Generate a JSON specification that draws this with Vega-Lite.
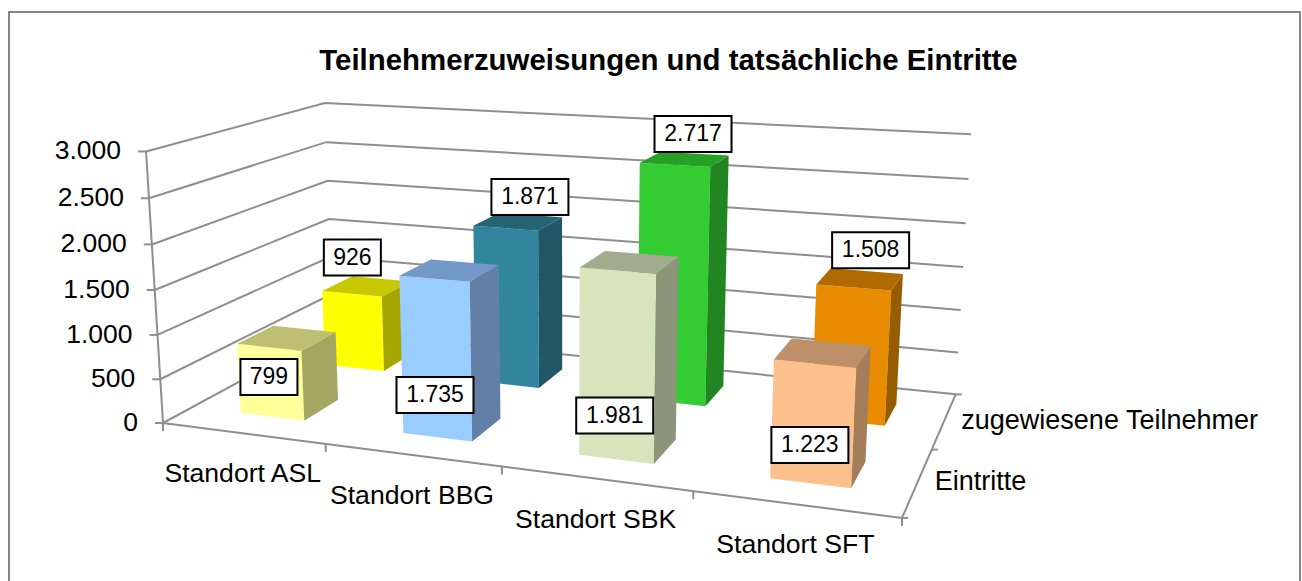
{
"$schema":"https://vega.github.io/schema/vega-lite/v6.json",
"width":1291,"height":570,
"padding":{"left":9,"top":12,"right":2,"bottom":0},
"autosize":"none",
"background":"white",
"config":{"view":{"stroke":"#868686","strokeWidth":2},"font":"Liberation Sans"},
"title":{"text":"Teilnehmerzuweisungen und tatsächliche Eintritte","font":"Liberation Sans","fontSize":29.4,"fontWeight":"bold","color":"black","anchor":"middle","baseline":"middle","dx":14,"dy":30,"offset":-48},
"datasets":{
"balken":[
{"standort":"Standort ASL","reihe":"zugewiesene Teilnehmer","wert":926},
{"standort":"Standort BBG","reihe":"zugewiesene Teilnehmer","wert":1871},
{"standort":"Standort SBK","reihe":"zugewiesene Teilnehmer","wert":2717},
{"standort":"Standort SFT","reihe":"zugewiesene Teilnehmer","wert":1508},
{"standort":"Standort ASL","reihe":"Eintritte","wert":799},
{"standort":"Standort BBG","reihe":"Eintritte","wert":1735},
{"standort":"Standort SBK","reihe":"Eintritte","wert":1981},
{"standort":"Standort SFT","reihe":"Eintritte","wert":1223}],
"skala":[{"wert":0},{"wert":500},{"wert":1000},{"wert":1500},{"wert":2000},{"wert":2500},{"wert":3000}],
"kanten":[{"kante":"y"},{"kante":"x"},{"kante":"z"}],
"grenzen":[{"grenze":0},{"grenze":1},{"grenze":2},{"grenze":3},{"grenze":4}],
"orte":[{"standort":"Standort ASL"},{"standort":"Standort BBG"},{"standort":"Standort SBK"},{"standort":"Standort SFT"}],
"reihen":[{"reihe":"Eintritte"},{"reihe":"zugewiesene Teilnehmer"}],
"tiefen":[{"tiefe":0},{"tiefe":1},{"tiefe":2}]
},
"encoding":{
"x":{"field":"px","type":"quantitative","axis":null,"scale":{"domain":[9,1300]}},
"y":{"field":"py","type":"quantitative","axis":null,"scale":{"domain":[582,12]}}
},
"layer":[
{"data":{"name":"skala"},
"transform":[
{"calculate":"[0,1,2]","as":"t"},{"flatten":["t"]},
{"calculate":"datum.t==2?1:0","as":"u"},{"calculate":"datum.t==0?0:1","as":"v"},{"calculate":"datum.wert/3000","as":"w"},
{"calculate":"1-0.153*datum.u+0.2*datum.v-0.04*datum.w","as":"d"},
{"calculate":"(163+601*datum.u+236.6*datum.v-22.8*datum.w)/datum.d","as":"px"},
{"calculate":"(423+15.7*datum.u-25.8*datum.v-277.6*datum.w)/datum.d","as":"py"}],
"mark":{"type":"line","color":"#8e8e8e","strokeWidth":2},
"encoding":{"detail":{"field":"wert"},"order":{"field":"t"}}},
{"data":{"name":"kanten"},
"transform":[
{"calculate":"[0,1]","as":"t"},{"flatten":["t"]},
{"calculate":"datum.kante=='y'?0:(datum.kante=='x'?datum.t:1)","as":"u"},
{"calculate":"datum.kante=='z'?datum.t:0","as":"v"},
{"calculate":"datum.kante=='y'?datum.t:0","as":"w"},
{"calculate":"1-0.153*datum.u+0.2*datum.v-0.04*datum.w","as":"d"},
{"calculate":"(163+601*datum.u+236.6*datum.v-22.8*datum.w)/datum.d","as":"px"},
{"calculate":"(423+15.7*datum.u-25.8*datum.v-277.6*datum.w)/datum.d","as":"py"}],
"mark":{"type":"line","color":"#8e8e8e","strokeWidth":2},
"encoding":{"detail":{"field":"kante"},"order":{"field":"t"}}},
{"data":{"name":"skala"},
"transform":[
{"calculate":"datum.wert/3000","as":"w"},
{"calculate":"1-0.04*datum.w","as":"d"},
{"calculate":"(163-22.8*datum.w)/datum.d","as":"px"},
{"calculate":"(423-277.6*datum.w)/datum.d","as":"py"},
{"calculate":"datum.px-8","as":"px2"}],
"mark":{"type":"rule","color":"#8e8e8e","strokeWidth":2},
"encoding":{"x2":{"field":"px2"}}},
{"data":{"name":"grenzen"},
"transform":[
{"calculate":"datum.grenze/4","as":"u"},
{"calculate":"1-0.153*datum.u","as":"d"},
{"calculate":"(163+601*datum.u)/datum.d","as":"px"},
{"calculate":"(423+15.7*datum.u)/datum.d","as":"py"},
{"calculate":"datum.py+8","as":"py2"}],
"mark":{"type":"rule","color":"#8e8e8e","strokeWidth":2},
"encoding":{"y2":{"field":"py2"}}},
{"data":{"name":"tiefen"},
"transform":[
{"calculate":"datum.tiefe/2","as":"v"},
{"calculate":"0.847+0.2*datum.v","as":"d"},
{"calculate":"(764+236.6*datum.v)/datum.d","as":"px"},
{"calculate":"(438.7-25.8*datum.v)/datum.d","as":"py"},
{"calculate":"datum.px+6","as":"px2"}],
"mark":{"type":"rule","color":"#8e8e8e","strokeWidth":2},
"encoding":{"x2":{"field":"px2"}}},
{"data":{"name":"balken"},
"transform":[
{"calculate":"indexof(['Standort ASL','Standort BBG','Standort SBK','Standort SFT'],datum.standort)","as":"i"},
{"calculate":"datum.wert/3000","as":"h"},
{"calculate":"datum.reihe==='Eintritte'?0.15:0.65","as":"v0"},
{"calculate":"['vorn','seite','oben']","as":"flaeche"},{"flatten":["flaeche"]},
{"calculate":"[0,1,2,3]","as":"t"},{"flatten":["t"]},
{"calculate":"datum.flaeche=='seite'?(datum.i+0.71)/4:(datum.i+((datum.t==1||datum.t==2)?0.71:0.31))/4","as":"u"},
{"calculate":"datum.flaeche=='vorn'?datum.v0:(datum.flaeche=='seite'?datum.v0+((datum.t==1||datum.t==2)?0.2:0):datum.v0+(datum.t>=2?0.2:0))","as":"v"},
{"calculate":"datum.flaeche=='oben'?datum.h:(datum.t>=2?datum.h:0)","as":"w"},
{"calculate":"1-0.153*datum.u+0.2*datum.v-0.04*datum.w","as":"d"},
{"calculate":"(163+601*datum.u+236.6*datum.v-22.8*datum.w)/datum.d","as":"px"},
{"calculate":"(423+15.7*datum.u-25.8*datum.v-277.6*datum.w)/datum.d","as":"py"},
{"calculate":"slice(datum.standort,9)+'-'+slice(datum.reihe,0,1)+'-'+datum.flaeche","as":"fl"}],
"mark":{"type":"line","filled":true,"strokeWidth":0},
"encoding":{
"order":{"field":"t"},
"color":{"field":"fl","type":"nominal","legend":null,"scale":{
"domain":["ASL-z-vorn","ASL-z-seite","ASL-z-oben","BBG-z-vorn","BBG-z-seite","BBG-z-oben","SBK-z-vorn","SBK-z-seite","SBK-z-oben","SFT-z-vorn","SFT-z-seite","SFT-z-oben","ASL-E-vorn","ASL-E-seite","ASL-E-oben","BBG-E-vorn","BBG-E-seite","BBG-E-oben","SBK-E-vorn","SBK-E-seite","SBK-E-oben","SFT-E-vorn","SFT-E-seite","SFT-E-oben"],
"range":["#FFFF00","#A6A600","#C8C800","#31859C","#205665","#256475","#33CC33","#218521","#26A126","#E98C00","#975B00","#B06A00","#FFFF99","#A6A663","#BFBF73","#99CCFF","#6280A6","#7399C8","#D8E4BC","#8C947A","#A2AB8D","#FCC08C","#A47D5B","#BD906A"]}}}},
{"data":{"name":"balken"},
"transform":[
{"calculate":"indexof(['Standort ASL','Standort BBG','Standort SBK','Standort SFT'],datum.standort)","as":"i"},
{"calculate":"(datum.i+0.5)/4","as":"u"},
{"calculate":"datum.reihe==='Eintritte'?0.15:0.65","as":"v"},
{"calculate":"datum.reihe==='Eintritte'?0.145:datum.wert/3000","as":"w"},
{"calculate":"1-0.153*datum.u+0.2*datum.v-0.04*datum.w","as":"d"},
{"calculate":"(163+601*datum.u+236.6*datum.v-22.8*datum.w)/datum.d+(datum.reihe==='Eintritte'?0:[2,26,20,19][datum.i])","as":"px"},
{"calculate":"(423+15.7*datum.u-25.8*datum.v-277.6*datum.w)/datum.d+(datum.reihe==='Eintritte'?[-2,-3,-3,4][datum.i]:[-36,-31,-31,-37][datum.i])","as":"py"},
{"calculate":"datum.wert<1000?28.5:38.5","as":"b"},
{"calculate":"datum.px-datum.b","as":"x1"},{"calculate":"datum.px+datum.b","as":"x2"},
{"calculate":"datum.py-18","as":"y1"},{"calculate":"datum.py+18","as":"y2"}],
"mark":{"type":"rect","fill":"white","stroke":"black","strokeWidth":2},
"encoding":{"x":{"field":"x1","type":"quantitative"},"x2":{"field":"x2"},"y":{"field":"y1","type":"quantitative"},"y2":{"field":"y2"}}},
{"data":{"name":"balken"},
"transform":[
{"calculate":"indexof(['Standort ASL','Standort BBG','Standort SBK','Standort SFT'],datum.standort)","as":"i"},
{"calculate":"(datum.i+0.5)/4","as":"u"},
{"calculate":"datum.reihe==='Eintritte'?0.15:0.65","as":"v"},
{"calculate":"datum.reihe==='Eintritte'?0.145:datum.wert/3000","as":"w"},
{"calculate":"1-0.153*datum.u+0.2*datum.v-0.04*datum.w","as":"d"},
{"calculate":"(163+601*datum.u+236.6*datum.v-22.8*datum.w)/datum.d+(datum.reihe==='Eintritte'?0:[2,26,20,19][datum.i])","as":"px"},
{"calculate":"(423+15.7*datum.u-25.8*datum.v-277.6*datum.w)/datum.d+(datum.reihe==='Eintritte'?[-2,-3,-3,4][datum.i]:[-36,-31,-31,-37][datum.i])","as":"py"},
{"calculate":"replace(format(datum.wert,','),',','.')","as":"etikett"}],
"mark":{"type":"text","font":"Liberation Sans","fontSize":23,"color":"black","baseline":"middle","align":"center"},
"encoding":{"text":{"field":"etikett"}}},
{"data":{"name":"skala"},
"transform":[
{"calculate":"datum.wert/3000","as":"w"},
{"calculate":"1-0.04*datum.w","as":"d"},
{"calculate":"(163-22.8*datum.w)/datum.d","as":"px"},
{"calculate":"(423-277.6*datum.w)/datum.d","as":"py"},
{"calculate":"replace(format(datum.wert,','),',','.')","as":"etikett"}],
"mark":{"type":"text","font":"Liberation Sans","fontSize":26.5,"color":"black","baseline":"middle","align":"right","dx":-25},
"encoding":{"text":{"field":"etikett"}}},
{"data":{"name":"orte"},
"transform":[
{"calculate":"(indexof(['Standort ASL','Standort BBG','Standort SBK','Standort SFT'],datum.standort)+0.5)/4","as":"u"},
{"calculate":"1-0.153*datum.u","as":"d"},
{"calculate":"(163+601*datum.u)/datum.d","as":"px"},
{"calculate":"(423+15.7*datum.u)/datum.d","as":"py"}],
"mark":{"type":"text","font":"Liberation Sans","fontSize":26.6,"color":"black","baseline":"middle","align":"center","dy":41},
"encoding":{"text":{"field":"standort"}}},
{"data":{"name":"reihen"},
"transform":[
{"calculate":"datum.reihe==='Eintritte'?0.25:0.75","as":"v"},
{"calculate":"0.847+0.2*datum.v","as":"d"},
{"calculate":"(764+236.6*datum.v)/datum.d","as":"px"},
{"calculate":"(438.7-25.8*datum.v)/datum.d","as":"py"}],
"mark":{"type":"text","font":"Liberation Sans","fontSize":27,"color":"black","baseline":"middle","align":"left","dx":17},
"encoding":{"text":{"field":"reihe"}}}
]
}
